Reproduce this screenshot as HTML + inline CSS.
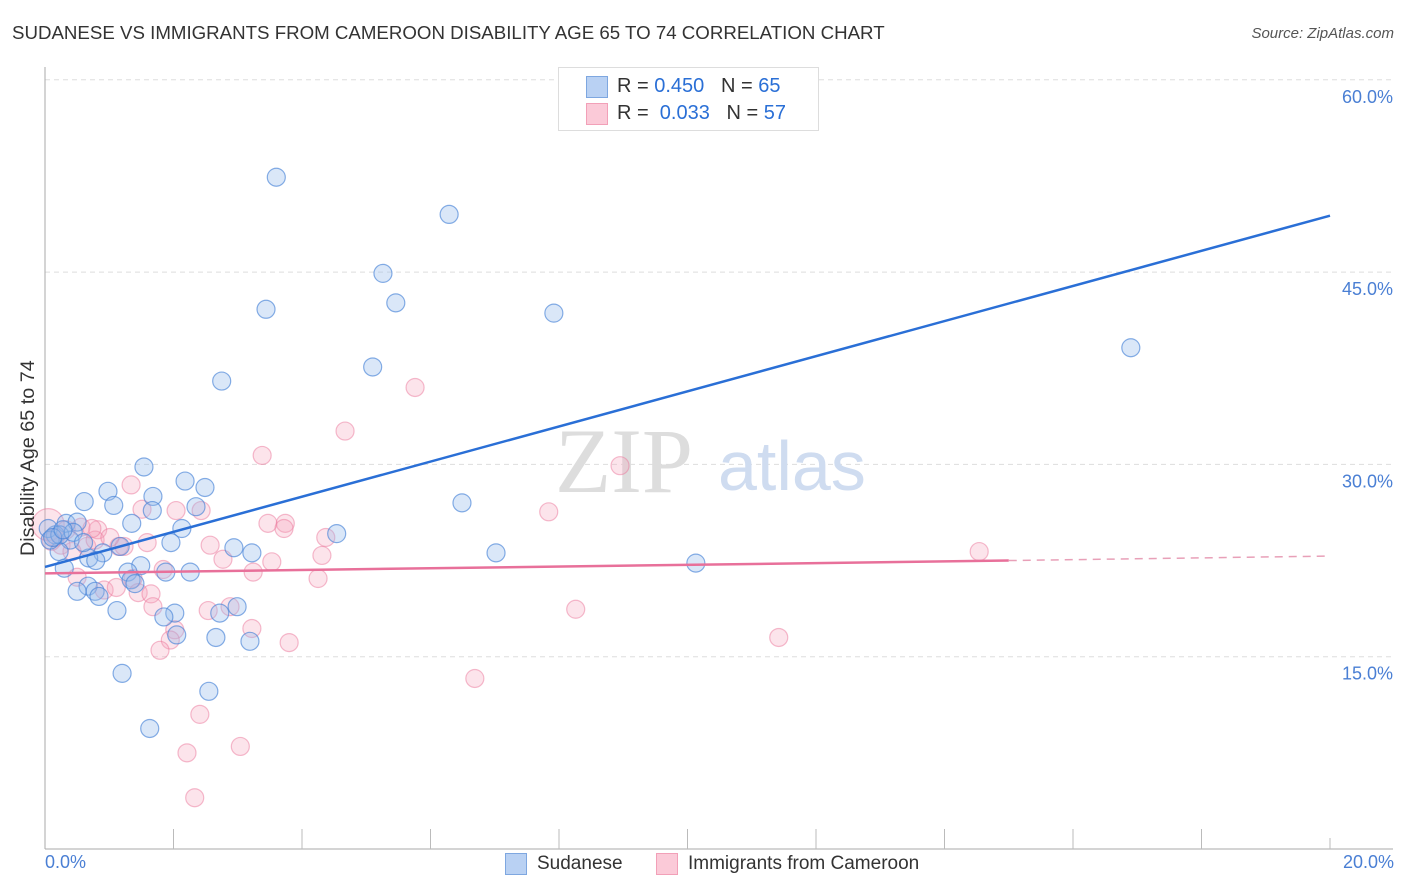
<!DOCTYPE html>
<html><head><meta charset="utf-8">
<style>
body{margin:0;background:#fff;font-family:"Liberation Sans",sans-serif;}
#wrap{position:relative;width:1406px;height:892px;overflow:hidden;}
.t{position:absolute;white-space:nowrap;}
</style></head><body>
<div id="wrap">
<div class="t" style="left:12px;top:22px;font-size:18.7px;color:#333;">SUDANESE VS IMMIGRANTS FROM CAMEROON DISABILITY AGE 65 TO 74 CORRELATION CHART</div>
<div class="t" style="right:12px;top:25px;font-size:15px;color:#555;font-style:italic;">Source: ZipAtlas.com</div>
<svg id="svg" width="1406" height="892" style="position:absolute;left:0;top:0"></svg>
</div>
<script>
const blueX=[3.60,6.29,5.26,5.46,3.44,7.92,16.90,5.10,2.75,1.54,6.49,2.18,2.49,0.98,0.61,1.68,1.07,1.67,2.35,1.35,2.13,0.33,0.50,0.16,0.39,4.54,1.96,2.94,3.22,7.02,1.17,0.90,0.22,0.68,0.79,1.49,0.30,10.13,1.88,2.26,1.29,1.34,1.40,0.67,0.50,0.78,0.84,1.12,2.99,2.02,1.85,2.72,2.66,3.19,2.05,1.20,2.55,1.63,0.05,0.08,0.23,0.44,0.12,0.28,0.60];
const blueY=[52.4,49.5,44.9,42.6,42.1,41.8,39.1,37.6,36.5,29.8,27.0,28.7,28.2,27.9,27.1,27.5,26.8,26.4,26.7,25.4,25.0,25.4,25.5,24.5,24.1,24.6,23.9,23.5,23.1,23.1,23.6,23.1,23.2,22.7,22.5,22.1,21.9,22.3,21.6,21.6,21.6,21.0,20.7,20.5,20.1,20.1,19.7,18.6,18.9,18.4,18.1,18.4,16.5,16.2,16.7,13.7,12.3,9.4,25.0,24.1,24.5,24.7,24.3,24.9,23.9];
const pinkX=[5.76,4.67,3.38,8.95,1.34,2.04,2.43,7.84,1.51,3.47,3.74,3.72,14.54,4.37,0.82,0.56,0.25,0.65,0.78,1.15,1.59,1.23,2.57,2.77,3.53,4.31,3.24,4.25,0.50,1.37,1.84,0.92,1.11,1.45,1.65,2.88,2.54,1.68,8.26,3.22,2.02,1.95,3.80,1.79,11.42,6.69,2.41,3.04,2.21,2.33,0.05,0.16,0.33,0.73,1.01,0.42,0.10];
const pinkY=[36.0,32.6,30.7,29.9,28.4,26.4,26.4,26.3,26.5,25.4,25.4,25.0,23.2,24.3,24.9,25.1,23.7,23.6,24.1,23.6,23.9,23.6,23.7,22.6,22.4,22.9,21.6,21.1,21.2,21.1,21.8,20.2,20.4,20.0,19.9,18.9,18.6,18.9,18.7,17.2,17.1,16.3,16.1,15.5,16.5,13.3,10.5,8.0,7.5,4.0,25.3,24.3,24.9,25.0,24.3,23.2,24.0];
const yTicks=[15,30,45,60];
const yTickLabels=["15.0%","30.0%","45.0%","60.0%"];
const blueTrend=[22.0,49.4];
const pinkTrend=[21.5,22.5,22.85];
const ns="http://www.w3.org/2000/svg";
const svg=document.getElementById('svg');
const X=v=>45+v*64.25, Y=v=>849-v*12.82;
function mk(tag,a){const e=document.createElementNS(ns,tag);for(const k in a)e.setAttribute(k,a[k]);svg.appendChild(e);return e;}
yTicks.forEach((t,i)=>{
 const g=mk('line',{x1:45,x2:1393,y1:Y(t),y2:Y(t),stroke:'#ddd','stroke-dasharray':'5,4'});
 
 
 const tx=mk('text',{x:1393,y:Y(t)+23,'text-anchor':'end','font-size':18,fill:'#4a7fd4','font-family':'Liberation Sans'});
 tx.textContent=yTickLabels[i];
 
 
});
const ya=mk('line',{x1:45,x2:45,y1:67,y2:849,stroke:'#aaa'});


const xa=mk('line',{x1:45,x2:1393,y1:849,y2:849,stroke:'#aaa'});


for(let i=1;i<=10;i++){const tk=mk('line',{x1:X(i*2),x2:X(i*2),y1:i==10?838:829,y2:849,stroke:'#bbb'});
 
 }
const wm=mk('text',{x:555,y:492,'font-size':92,fill:'#ddd','font-family':'Liberation Serif'});wm.textContent='ZIP';


const wm2=mk('text',{x:718,y:490,'font-size':70,fill:'#cfdcf0','font-family':'Liberation Sans'});wm2.textContent='atlas';


pinkX.forEach((x,i)=>{const c=mk('circle',{cx:X(x),cy:Y(pinkY[i]),r:i==50?16:9,fill:'rgba(245,165,190,0.3)',stroke:'rgba(235,120,155,0.5)','stroke-width':1.2});
 
 });
blueX.forEach((x,i)=>{const c=mk('circle',{cx:X(x),cy:Y(blueY[i]),r:9,fill:'rgba(150,185,235,0.35)',stroke:'rgba(70,130,215,0.65)','stroke-width':1.2});
 
 });
const bl=mk('line',{x1:X(0),y1:Y(blueTrend[0]),x2:X(20),y2:Y(blueTrend[1]),stroke:'#2a6fd6','stroke-width':2.5});


const pl=mk('line',{x1:X(0),y1:Y(pinkTrend[0]),x2:X(15),y2:Y(pinkTrend[1]),stroke:'#e8709a','stroke-width':2.5});


const pd=mk('line',{x1:X(15),y1:Y(pinkTrend[1]),x2:X(20),y2:Y(pinkTrend[2]),stroke:'#e8a0b8','stroke-width':1.5,'stroke-dasharray':'8,6'});


</script>
<div class="t" style="left:17px;top:556px;font-size:19.8px;color:#333;transform:rotate(-90deg);transform-origin:0 0;">Disability Age 65 to 74</div>
<div class="t" style="left:45px;top:852px;font-size:18px;color:#4a7fd4;">0.0%</div>
<div class="t" style="right:12px;top:852px;font-size:18px;color:#4a7fd4;">20.0%</div>
<div style="position:absolute;left:558px;top:67px;width:259px;height:62px;border:1px solid #ddd;background:#fff;">
 <div style="position:absolute;left:27px;top:8px;width:20px;height:20px;background:#b9d1f3;border:1px solid #7ea7e0;"></div>
 <div class="t" style="left:58px;top:7px;font-size:20px;color:#333;">R = <span style="color:#2a6fd6">0.450</span>&nbsp;&nbsp;&nbsp;N = <span style="color:#2a6fd6">65</span></div>
 <div style="position:absolute;left:27px;top:35px;width:20px;height:20px;background:#fbcad8;border:1px solid #f2a0b8;"></div>
 <div class="t" style="left:58px;top:34px;font-size:20px;color:#333;">R = &nbsp;<span style="color:#2a6fd6">0.033</span>&nbsp;&nbsp;&nbsp;N = <span style="color:#2a6fd6">57</span></div>
</div>
<div style="position:absolute;left:505px;top:853px;width:20px;height:20px;background:#b9d1f3;border:1px solid #7ea7e0;"></div>
<div class="t" style="left:537px;top:853px;font-size:19px;color:#333;">Sudanese</div>
<div style="position:absolute;left:656px;top:853px;width:20px;height:20px;background:#fbcad8;border:1px solid #f2a0b8;"></div>
<div class="t" style="left:688px;top:853px;font-size:19px;color:#333;">Immigrants from Cameroon</div>
</body></html>
